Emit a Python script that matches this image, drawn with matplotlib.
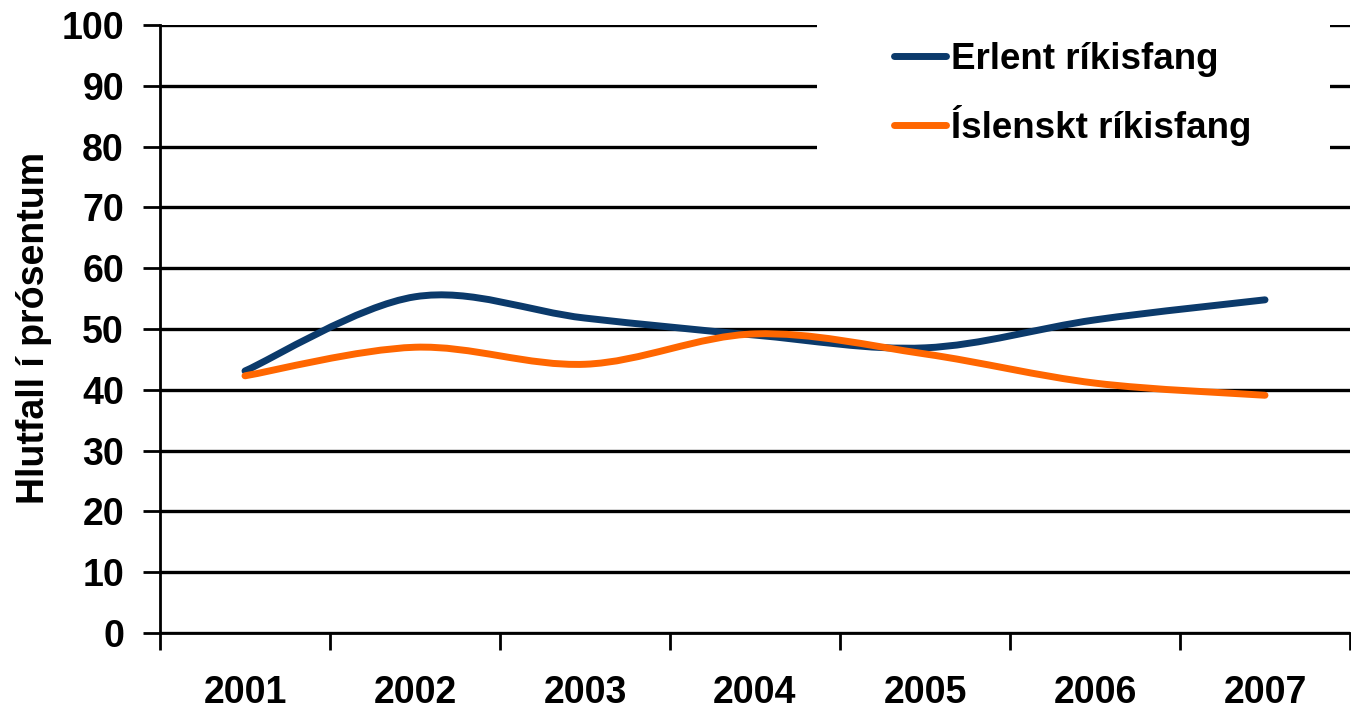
import numpy as np
import matplotlib
matplotlib.use("Agg")
import matplotlib.pyplot as plt
from matplotlib.path import Path
from matplotlib.patches import PathPatch, Rectangle
from matplotlib.lines import Line2D

plt.rcParams['font.family'] = ['Liberation Sans', 'DejaVu Sans']
plt.rcParams['font.weight'] = 'bold'

years = ['2001', '2002', '2003', '2004', '2005', '2006', '2007']
erlent = [43.1, 55.3, 51.8, 49.0, 46.9, 51.5, 54.8]
islenskt = [42.3, 47.0, 44.2, 49.2, 45.9, 41.1, 39.1]
series_names = ['Erlent ríkisfang', 'Íslenskt ríkisfang']
colors = ['#0B3A6B', '#FF6600']


def smooth_path(xs, ys):
    # Excel-style smoothed line: cubic bezier through the points
    xs = np.asarray(xs, float)
    ys = np.asarray(ys, float)
    n = len(xs)
    verts = [(xs[0], ys[0])]
    codes = [Path.MOVETO]
    for i in range(n - 1):
        p0 = np.array([xs[max(i - 1, 0)], ys[max(i - 1, 0)]])
        p1 = np.array([xs[i], ys[i]])
        p2 = np.array([xs[i + 1], ys[i + 1]])
        p3 = np.array([xs[min(i + 2, n - 1)], ys[min(i + 2, n - 1)]])
        c1 = p1 + (p2 - p0) / 6.0
        c2 = p2 - (p3 - p1) / 6.0
        verts += [tuple(c1), tuple(c2), tuple(p2)]
        codes += [Path.CURVE4] * 3
    return Path(verts, codes)


fig = plt.figure(figsize=(13.51, 7.09), dpi=100)
ax = fig.add_axes([160 / 1351, 76 / 709, 1190 / 1351, 608 / 709])

x = np.arange(len(years))
for vals, col in zip([erlent, islenskt], colors):
    patch = PathPatch(smooth_path(x, vals), facecolor='none', edgecolor=col,
                      lw=5, capstyle='round', joinstyle='round', zorder=3)
    ax.add_patch(patch)

ax.set_xlim(-0.5, 6.5)
ax.set_ylim(0, 100)
ax.set_yticks(np.arange(0, 101, 10))
ax.yaxis.grid(True, color='black', lw=2.4)
ax.set_axisbelow(True)

ax.set_xticks(np.arange(-0.5, 6.6, 1.0))
ax.set_xticklabels([])
ax.set_xticks(x, minor=True)
ax.set_xticklabels(years, minor=True)
ax.tick_params(axis='x', which='major', length=12, width=2, direction='out')
ax.tick_params(axis='x', which='minor', length=0, pad=30, labelsize=27)
ax.tick_params(axis='y', length=12, width=2, direction='out', pad=14, labelsize=27)

for s in ['top', 'right']:
    ax.spines[s].set_visible(False)
for s in ['left', 'bottom']:
    ax.spines[s].set_linewidth(2)

ax.set_ylabel('Hlutfall í prósentum', fontsize=27, fontweight='bold')
ax.yaxis.set_label_coords(52 / 1351, 1 - 328 / 709, transform=fig.transFigure)

# white legend area hiding the gridlines
ax.add_patch(Rectangle((817 / 1351, 1 - 160 / 709), 513 / 1351, 140 / 709,
                       transform=fig.transFigure, facecolor='white',
                       edgecolor='none', zorder=2, clip_on=False))

handles = [Line2D([], [], color=c, lw=5, solid_capstyle='round') for c in colors]
leg = ax.legend(handles, series_names, loc='upper left',
                bbox_to_anchor=(872 / 1351, 1 - 20 / 709), bbox_transform=fig.transFigure,
                prop={'size': 26.5, 'weight': 'bold'}, frameon=False,
                handlelength=1.4, handletextpad=0.15, labelspacing=0.75,
                borderpad=0.6, borderaxespad=0)

fig.savefig('out.png', dpi=100)
